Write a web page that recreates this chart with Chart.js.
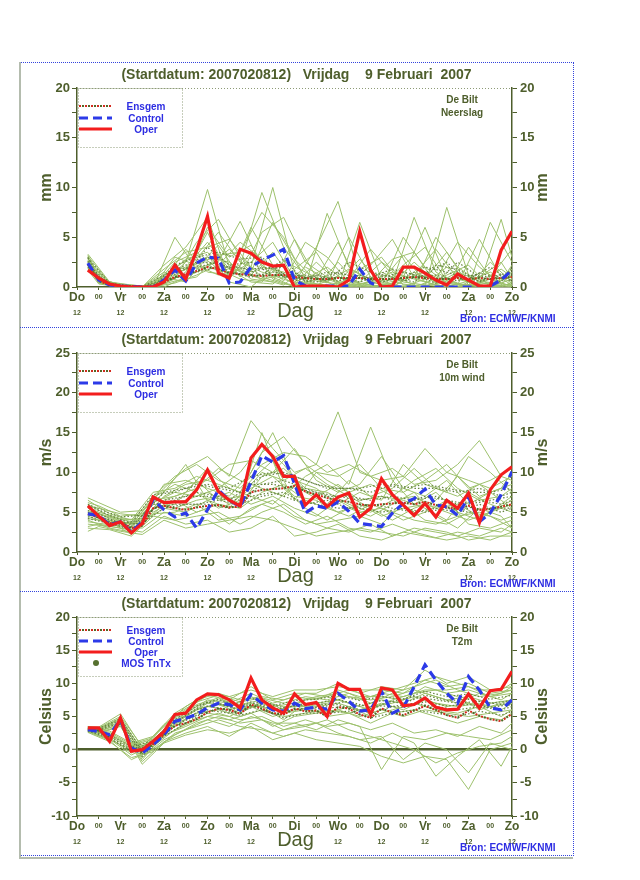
<!DOCTYPE html>
<html>
<head>
<meta charset="utf-8">
<script src="https://cdn.jsdelivr.net/npm/chart.js@4.4.1/dist/chart.umd.min.js"></script>
<style>
body { margin: 0; background: #fff; }
#page { position: relative; width: 640px; height: 880px; }
.frame { position: absolute; left: 20px; top: 62px; width: 554px; height: 794px; border: 1px dotted #3344dd; box-sizing: border-box; }
.grey { position: absolute; background: #b4bcae; }
.sep { position: absolute; left: 20px; width: 553px; border-top: 1px dotted #3344dd; }
canvas { position: absolute; left: 20px; }
</style>
</head>
<body>
<div id="page">
  <div class="frame"></div>
  <div class="grey" style="left:19px;top:62px;width:2px;height:797px"></div>
  <div class="grey" style="left:19px;top:857px;width:554px;height:2px"></div>
  <div class="sep" style="top:327px"></div>
  <div class="sep" style="top:591px"></div>
  <canvas id="c1" width="553" height="264" style="top:62px"></canvas>
  <canvas id="c2" width="553" height="264" style="top:327px"></canvas>
  <canvas id="c3" width="553" height="264" style="top:591px"></canvas>
</div>
<script>
// tijdas (uren na start 2007020812)
const hours6 = [6,12,18,24,30,36,42,48,54,60,66,72,78,84,90,96,102,108,114,120,126,132,138,144,150,156,162,168,174,180,186,192,198,204,210,216,222,228,234,240];
const hoursA = [6,18,30,42,54,66,78,90,102,114,126,138,150,162,174,186,198,210,222,234,240];
const hoursB = [6,12,24,36,48,60,72,84,96,108,120,132,144,156,168,180,192,204,216,228,240];
const dayLabels = ['Do','Vr','Za','Zo','Ma','Di','Wo','Do','Vr','Za','Zo'];

// ---- Neerslag (mm)
const precipOper = [1.7,0.9,0.3,0.1,0.0,0.0,0.0,0.5,2.2,0.8, 3.7,7.1,1.4,0.9,3.8,3.4,2.5,2.1,2.2,0.0, 0.1,0.1,0.1,0.0,0.7,5.6,1.7,0.0,0.1,2.0, 2.0,1.4,0.7,0.2,1.3,0.7,0.1,0.1,3.7,5.6];
const precipControl = [2.4,0.7,0.2,0.1,0.05,0.0,0.0,0.7,1.7,0.6, 2.4,3.0,2.9,0.4,0.5,2.0,2.7,3.2,3.8,0.7, 0.1,0.0,0.1,0.1,0.1,1.8,0.4,0.0,0.0,0.0, 0.0,0.0,0.0,0.0,0.0,0.0,0.0,0.1,0.7,1.7];
const precipEnsgem = [2.3,0.6,0.2,0.1,0.1,0.0,0.1,0.5,1.0,1.3, 1.6,2.0,1.8,1.4,1.3,1.2,1.1,1.2,1.2,1.0, 0.9,0.8,0.8,0.9,0.9,0.9,0.8,0.8,0.8,0.9, 1.0,0.9,0.8,0.8,0.9,0.8,0.9,0.8,0.9,1.0];
const precipMembersA = [
  [2.8,0.3,0.1,0.0,1.2,2.5,3.0,1.5,0.8,1.2,0.4,0.2,0.0,0.6,1.5,0.8,0.2,0.0,0.5,1.8,1.0],
  [2.2,0.2,0.0,0.1,2.0,3.2,1.5,2.2,9.5,4.0,1.0,0.5,1.8,0.8,0.2,0.0,0.3,1.5,0.6,0.3,0.2],
  [3.1,0.4,0.0,0.0,0.8,4.5,6.8,3.0,1.0,0.3,0.2,7.4,2.0,0.5,0.0,1.2,3.8,0.8,0.2,0.0,0.5],
  [1.9,0.2,0.1,0.0,5.0,1.8,2.6,6.6,2.0,1.5,0.6,0.0,0.3,2.2,4.8,0.9,0.2,0.0,1.0,2.5,0.8],
  [2.5,0.3,0.0,0.0,1.5,2.0,4.2,1.0,5.5,7.0,2.5,1.0,0.0,0.0,0.4,7.0,1.5,0.3,0.0,0.6,2.2],
  [2.0,0.1,0.0,0.0,0.4,1.2,2.2,4.5,2.8,0.6,4.5,3.0,0.5,0.2,0.0,0.0,0.8,4.5,2.0,0.4,0.1],
  [3.3,0.5,0.2,0.0,2.5,3.5,1.8,0.8,0.5,2.6,1.5,0.4,5.0,1.0,0.3,2.5,0.5,0.0,0.2,6.8,3.0],
  [2.6,0.3,0.0,0.1,1.0,2.8,5.5,2.5,1.5,0.8,0.0,0.0,0.8,3.8,1.2,0.2,5.0,2.0,0.5,0.0,0.0],
  [1.8,0.2,0.1,0.0,0.6,1.0,3.2,3.5,7.5,5.0,0.8,2.0,0.3,0.0,0.0,1.5,0.6,0.2,4.8,1.0,0.4],
  [2.4,0.4,0.0,0.0,3.0,2.2,1.2,1.8,0.8,0.2,2.0,0.8,0.0,0.5,2.8,3.5,0.3,1.0,0.0,0.2,1.5]
];
const precipMembersB = [
  [2.5,0.8,0.1,0.0,0.5,2.5,9.8,2.0,1.2,3.5,0.5,0.2,1.0,0.4,0.0,0.8,1.5,0.5,0.2,0.4,1.0],
  [3.0,0.6,0.2,0.0,1.8,3.5,4.0,4.8,2.0,10.0,1.5,0.3,0.0,0.5,2.5,1.0,6.0,0.8,0.0,2.5,0.5],
  [2.1,0.5,0.0,0.1,0.3,1.5,5.5,1.0,6.0,2.2,0.4,4.0,8.6,1.0,0.2,0.0,0.3,2.0,0.5,0.0,0.8],
  [1.7,0.3,0.0,0.0,1.0,0.5,3.0,2.5,0.8,0.5,4.8,1.0,0.0,6.5,0.8,0.3,0.0,8.0,1.2,0.3,0.0],
  [2.7,0.9,0.2,0.0,2.2,4.0,7.0,0.8,3.5,1.0,0.0,0.0,2.5,0.2,0.0,5.0,2.0,0.4,0.0,6.5,2.5],
  [2.3,0.4,0.1,0.0,0.0,1.0,2.0,3.8,1.5,6.5,2.8,0.6,0.3,0.0,1.5,0.5,0.2,0.0,4.0,1.0,3.8],
  [3.2,1.0,0.1,0.0,0.8,2.8,3.5,0.5,0.0,1.8,0.2,2.5,0.5,2.8,0.3,0.0,0.8,3.5,0.2,0.0,0.3],
  [1.9,0.5,0.0,0.0,1.5,0.8,6.0,3.0,4.2,0.8,0.0,0.8,4.5,0.0,0.0,2.2,4.0,0.6,0.0,0.8,0.0],
  [2.9,0.7,0.3,0.1,0.6,3.8,1.5,1.2,2.5,4.5,0.8,0.0,0.2,1.8,3.0,0.2,0.0,1.2,2.2,0.0,1.8],
  [2.0,0.4,0.0,0.0,1.2,2.0,4.5,1.8,0.5,0.3,1.8,3.5,0.0,0.3,0.6,3.2,0.5,0.0,0.6,1.5,0.2]
];
// kern van de pluim (donker gestippeld)
const precipCoreA = [
  [2.2,0.3,0.0,0.0,1.8,2.0,2.5,1.2,1.8,2.0,0.8,1.5,1.2,0.6,0.8,1.0,1.2,0.6,1.4,0.8,1.2],
  [2.9,0.4,0.1,0.0,2.2,3.0,3.5,2.8,3.0,1.0,1.2,0.6,2.5,1.5,1.0,0.5,2.2,1.8,0.5,1.2,0.6],
  [2.0,0.2,0.0,0.0,0.9,1.5,2.0,2.0,1.2,2.8,0.5,1.0,0.8,1.0,1.8,1.2,0.4,2.5,1.0,0.5,2.0]
];
const precipCoreB = [
  [2.6,0.5,0.1,0.0,0.8,1.8,3.0,1.5,1.0,1.5,1.2,0.8,1.5,0.8,1.0,1.5,1.0,0.8,1.2,1.0,1.5],
  [2.2,0.6,0.0,0.0,1.2,2.2,2.5,2.0,1.8,2.0,0.6,1.2,0.6,1.2,0.5,1.0,2.0,1.5,0.8,2.0,0.5],
  [3.0,0.8,0.1,0.0,0.6,1.2,4.0,2.2,2.5,1.2,0.9,0.5,1.0,0.5,1.2,0.6,1.2,2.5,0.5,0.8,1.0]
];

// ---- 10m wind (m/s)
const windOper = [5.8,4.5,3.3,3.8,2.4,3.6,6.9,6.2,6.3,6.3, 7.8,10.3,7.6,6.5,5.8,11.8,13.5,12.0,9.5,9.5, 5.9,7.2,5.7,6.9,7.4,4.4,5.5,9.2,7.2,5.9, 4.6,6.1,4.4,6.5,5.5,7.4,3.7,7.8,9.7,10.7];
const windControl = [4.8,4.6,3.4,3.8,2.5,3.8,6.6,5.3,4.4,4.9, 3.0,5.3,7.8,6.5,5.7,8.8,12.1,11.3,12.1,8.6, 4.9,5.8,5.5,6.3,5.1,3.6,3.4,3.2,4.9,6.1, 6.7,7.9,5.9,5.7,4.6,6.9,3.8,4.9,7.2,10.1];
const windEnsgem = [4.8,4.3,3.6,3.8,3.0,3.3,5.5,5.8,5.5,5.3, 5.6,5.8,5.9,5.6,5.7,7.5,7.8,7.9,8.0,8.3, 7.6,7.2,6.8,6.5,6.3,6.0,5.8,6.0,6.1,6.2, 6.0,6.3,5.9,5.6,5.4,5.8,5.3,5.4,5.7,6.0];
const windMembersA = [
  [4.5,3.5,3.0,6.0,5.5,6.5,7.0,6.0,9.5,10.5,8.0,7.5,6.0,5.0,6.5,7.0,5.5,6.0,4.5,5.5,6.0],
  [6.5,4.8,4.0,7.5,8.0,9.5,8.5,7.5,12.5,14.5,11.0,9.0,7.5,8.5,7.0,9.0,10.5,8.0,6.5,7.0,8.0],
  [3.0,2.8,2.0,4.5,4.0,4.5,5.0,3.5,5.0,6.0,4.0,3.0,2.5,3.5,2.0,3.0,2.5,2.0,3.0,2.5,3.5],
  [5.5,4.2,3.5,6.5,7.0,8.0,10.5,9.0,8.0,7.0,9.5,11.0,8.5,15.7,9.0,6.0,7.5,5.0,4.0,6.0,7.0],
  [4.0,3.0,2.5,5.0,6.5,5.0,6.0,5.5,7.5,8.5,6.5,5.5,4.5,6.0,5.0,4.0,3.5,4.5,5.0,4.0,4.5],
  [6.0,4.5,3.8,7.0,9.5,11.0,9.0,8.0,11.0,12.5,12.0,10.0,11.0,9.5,10.5,8.5,9.0,11.0,14.0,9.5,9.0],
  [3.5,3.2,2.8,4.8,5.0,6.0,4.0,4.5,6.0,5.0,3.5,4.5,3.0,2.5,3.5,2.5,1.8,2.5,2.0,3.0,2.5],
  [5.0,4.0,3.2,6.2,7.5,7.0,8.0,10.0,13.5,11.0,7.5,6.0,9.0,7.0,8.0,10.5,8.0,7.0,8.5,6.5,5.5],
  [4.8,3.8,2.2,5.5,6.0,9.0,6.5,7.0,10.0,9.0,10.5,8.5,7.0,5.5,4.0,5.5,6.5,9.5,7.0,8.0,10.0],
  [5.2,4.4,3.4,6.8,8.5,7.5,5.5,6.5,15.0,8.0,5.5,4.0,5.5,4.5,6.0,7.5,4.5,3.0,5.5,4.5,3.0]
];
const windMembersB = [
  [4.2,4.0,3.8,3.5,6.0,6.5,7.5,6.0,8.0,9.5,7.0,6.5,5.0,6.0,4.5,5.5,6.0,5.0,4.0,5.0,6.5],
  [6.8,6.2,5.0,5.2,8.0,10.5,12.0,9.5,16.5,13.0,10.0,11.0,17.6,10.0,9.0,9.5,13.0,10.0,9.0,8.0,9.5],
  [3.2,3.5,3.0,2.5,4.5,3.5,4.0,2.5,3.0,4.5,2.0,2.5,3.5,2.0,1.5,2.5,2.0,1.5,2.0,1.5,2.5],
  [5.6,5.0,4.2,4.0,7.0,8.5,9.0,11.0,11.5,10.0,13.0,9.0,7.5,8.5,12.0,8.0,7.0,9.0,6.0,7.5,8.5],
  [4.6,4.5,3.5,3.8,5.5,5.0,6.5,7.5,6.0,7.0,5.5,4.5,6.5,5.0,5.5,4.0,5.0,6.5,3.5,3.0,4.0],
  [5.8,5.5,4.8,4.5,8.5,9.0,8.0,7.0,10.0,15.0,9.0,8.0,6.0,7.5,6.5,11.0,8.5,7.5,12.0,10.0,7.5],
  [2.6,3.2,2.6,2.2,4.0,3.0,3.5,4.0,4.5,4.0,3.0,2.0,2.5,3.0,2.5,2.0,3.0,2.5,1.5,2.0,2.0],
  [5.0,4.8,4.0,4.2,6.5,7.5,10.5,8.0,7.0,6.0,8.5,7.0,8.5,6.5,7.0,6.5,5.5,4.0,7.5,6.0,5.0],
  [6.2,5.8,4.5,4.8,7.5,11.0,6.5,5.5,9.0,11.5,6.5,10.0,9.5,11.0,8.0,7.5,9.0,11.0,8.0,9.0,10.5],
  [3.8,3.6,3.3,3.0,5.0,4.5,5.5,3.5,5.5,6.5,4.5,3.5,4.0,4.5,3.5,6.0,4.0,3.5,5.0,4.5,3.0]
];
const windCoreA = [
  [5.0,4.0,3.2,6.0,6.5,7.5,7.0,6.5,8.5,9.0,8.0,7.0,7.0,6.5,7.0,6.5,7.0,6.0,6.5,6.0,6.5],
  [4.2,3.6,2.8,5.5,6.0,6.0,6.5,6.0,7.0,7.5,6.0,6.5,5.5,6.0,5.5,5.0,5.5,5.0,6.0,5.0,5.5],
  [5.8,4.6,3.6,7.2,7.5,8.5,8.0,7.5,9.5,10.0,9.0,8.0,8.0,7.5,8.5,8.0,8.0,7.5,8.0,7.0,7.5]
];
const windCoreB = [
  [5.2,4.8,3.6,4.0,6.5,7.0,7.0,6.5,8.5,8.5,8.0,7.5,7.0,6.5,7.0,6.0,7.0,6.5,6.0,6.5,7.0],
  [4.4,4.2,3.4,3.6,5.5,6.0,6.0,5.5,7.0,7.5,6.5,6.0,5.5,5.5,5.0,5.5,5.0,5.5,5.0,5.5,5.5],
  [6.0,5.4,4.4,4.6,7.5,8.0,8.5,8.0,9.5,10.0,9.5,8.5,8.0,8.0,8.5,8.0,8.5,8.0,7.5,7.5,8.0]
];

// ---- T2m (Celsius)
const t2mOper = [3.3,3.3,1.25,4.8,-0.25,0.0,1.25,2.75,5.3,5.5, 7.5,8.4,8.3,7.5,6.3,10.8,7.5,6.3,5.5,8.4, 6.8,7.1,5.0,10.0,9.1,9.1,5.3,9.3,9.0,6.6, 6.8,7.8,6.4,6.0,6.1,8.4,6.3,8.9,9.1,11.8];
const t2mControl = [3.0,2.75,2.25,4.5,0.25,-0.5,0.75,2.25,4.25,4.75, 5.3,6.3,7.0,6.8,6.0,8.3,7.0,6.0,5.8,7.0, 6.2,6.4,6.1,8.5,7.3,5.8,6.0,8.8,5.5,6.3, 9.5,12.8,10.5,8.5,7.0,11.0,9.0,6.3,6.0,7.5];
const t2mEnsgem = [3.0,2.9,1.8,4.2,0.3,-0.4,0.8,2.3,3.6,4.0, 4.6,5.6,6.2,6.0,5.4,6.8,6.2,5.5,5.3,6.2, 5.8,5.9,5.0,6.4,6.2,5.3,4.8,6.2,5.6,5.2, 5.9,6.6,6.0,5.2,4.8,5.9,5.1,4.6,4.3,5.4];
const t2mMembersA = [
  [3.0,2.0,0.2,1.0,4.0,6.0,7.0,6.0,7.0,5.5,6.0,5.5,6.5,5.0,6.0,7.0,6.0,5.5,6.5,5.0,6.0],
  [3.4,2.6,0.8,1.8,5.2,7.2,8.2,7.2,7.8,7.0,8.0,7.5,8.5,7.0,8.5,9.5,10.5,9.0,8.0,8.5,9.5],
  [2.6,1.2,-1.2,-0.3,2.5,3.5,4.5,3.5,3.0,2.0,3.0,2.5,2.0,1.0,2.5,1.0,-4.0,-1.0,1.5,-2.5,0.5],
  [3.2,1.8,-0.5,1.5,4.5,6.5,7.5,6.8,7.5,6.0,7.5,8.0,7.0,6.0,7.5,8.5,9.0,8.0,6.0,7.0,7.5],
  [2.8,1.5,0.0,0.5,3.0,4.5,5.5,4.5,5.0,3.5,4.5,3.5,4.0,3.0,4.0,2.5,3.0,2.0,3.5,2.5,4.0],
  [3.5,2.8,1.0,2.0,5.5,7.5,8.5,7.5,8.0,7.5,8.5,8.0,9.0,8.0,9.0,10.0,11.0,10.0,9.0,9.0,10.0],
  [2.9,1.6,-0.8,0.8,3.8,5.5,6.0,5.0,6.0,5.0,5.5,6.0,5.5,4.0,5.5,6.0,5.0,4.0,5.0,4.5,5.5],
  [3.1,2.2,0.5,1.2,4.8,6.8,7.8,6.5,6.5,4.5,7.0,5.0,5.5,6.5,7.0,8.0,7.0,6.5,7.0,6.0,7.0],
  [2.7,1.4,-1.5,0.0,2.2,4.0,5.0,4.0,4.5,3.0,3.5,4.5,3.0,2.0,1.0,0.0,-2.0,-0.5,0.5,1.0,2.0],
  [3.3,2.4,0.6,1.6,4.2,6.2,6.8,5.5,7.2,6.5,6.5,7.0,8.0,7.5,8.0,9.0,8.0,7.0,8.5,7.5,8.5]
];
const t2mMembersB = [
  [3.0,2.9,4.2,-0.5,2.0,4.0,5.5,5.0,6.5,5.0,6.0,6.5,7.0,6.0,7.0,6.0,7.5,6.5,7.0,6.5,7.0],
  [3.5,3.4,5.4,0.3,3.8,6.0,8.2,7.5,9.5,7.5,8.5,8.5,10.0,8.5,9.5,9.0,12.0,10.0,11.0,9.0,9.5],
  [2.6,2.6,3.6,-2.2,1.0,2.2,3.0,2.5,3.5,1.5,2.5,1.5,1.0,0.5,-1.0,-2.0,-1.0,-1.5,-6.0,0.0,1.0],
  [3.2,3.1,4.8,-0.2,2.8,5.0,7.0,6.5,8.0,6.5,7.0,8.0,8.5,7.5,8.5,8.0,9.0,9.0,9.5,8.0,8.5],
  [2.8,2.7,4.0,-1.2,1.5,3.0,4.5,3.5,5.0,4.0,4.0,3.0,4.5,3.5,-3.0,2.0,1.5,2.5,2.0,1.5,3.0],
  [3.4,3.3,5.0,0.5,3.5,6.5,8.5,8.0,9.0,8.0,9.0,9.0,9.5,9.0,9.0,8.5,10.5,9.5,10.0,8.5,9.0],
  [2.9,2.8,3.8,-1.5,2.2,3.5,5.0,4.5,5.5,3.5,5.0,5.5,6.0,5.0,6.0,5.0,6.0,5.5,5.0,5.5,6.0],
  [3.1,3.0,4.5,-0.8,2.5,4.5,6.5,6.0,7.0,6.0,6.5,7.0,7.5,6.5,7.5,7.0,8.5,7.5,8.0,7.0,7.5],
  [2.7,2.5,3.5,-1.8,1.2,2.5,3.5,2.0,4.0,2.5,3.5,4.0,2.5,1.5,2.0,-1.5,1.0,0.0,-3.5,1.0,0.0],
  [3.3,3.2,4.6,0.0,3.0,5.5,7.5,7.0,8.5,7.0,8.0,7.5,9.0,8.0,8.0,7.5,9.5,8.5,9.0,8.0,9.0]
];
const t2mCoreA = [
  [3.0,1.9,0.0,1.1,4.2,6.0,7.0,5.8,6.8,5.8,6.3,6.3,6.5,5.5,6.5,7.0,6.5,6.0,6.5,6.0,6.5],
  [3.2,2.2,0.4,1.4,4.6,6.6,7.6,6.4,7.3,6.3,7.0,6.8,7.3,6.3,7.3,8.0,7.5,7.0,7.3,6.8,7.3],
  [2.8,1.7,-0.3,0.9,3.6,5.2,6.2,5.2,6.0,4.8,5.5,5.5,5.8,4.8,5.5,6.0,5.5,5.0,5.8,5.2,5.8]
];
const t2mCoreB = [
  [3.1,3.0,4.4,-0.6,2.4,4.6,6.6,6.0,7.2,6.0,6.6,7.0,7.6,6.6,7.4,7.0,8.2,7.4,7.6,7.0,7.4],
  [3.0,2.9,4.1,-1.0,2.0,4.0,6.0,5.5,6.6,5.4,6.0,6.4,6.8,5.8,6.6,6.4,7.2,6.6,6.8,6.4,6.8],
  [3.3,3.2,4.7,-0.2,2.9,5.2,7.2,6.6,7.8,6.6,7.4,7.6,8.2,7.4,8.0,7.6,8.8,8.0,8.4,7.6,8.2]
];

const FONT = '"Liberation Sans", Arial, Helvetica, sans-serif';
const OLIVE = '#4e5e2c';
const BLUE = '#2d2de2';
const RED = '#f31d1d';
const CTRL = '#2c3ae8';
const GREEN = '#9dc16c';
const DARKGREEN = '#668540';
const TITLE = '(Startdatum: 2007020812)   Vrijdag    9 Februari  2007';

function pts(hours, vals) {
    return vals.map((v, i) => ({ x: hours[i], y: v }));
}

function line(data, color, width, dash, offset) {
    return {
        data: data,
        borderColor: color,
        borderWidth: width,
        borderDash: dash,
        borderDashOffset: offset || 0,
        pointRadius: 0,
        tension: 0,
        fill: false
    };
}

// legenda, teksten en rechter as-titel
const decor = {
    id: "decor",
    afterDraw(chart, args, o) {
        const ctx = chart.ctx;
        const a = chart.chartArea;
        ctx.save();

        ctx.strokeStyle = "#8d9b77";
        ctx.lineWidth = 1;
        ctx.setLineDash([1, 2]);
        ctx.beginPath();
        ctx.moveTo(a.left, a.top + 0.5);
        ctx.lineTo(a.right, a.top + 0.5);
        ctx.stroke();
        ctx.strokeRect(a.left + 1.5, a.top + 0.5, 104, 59);

        const rows = o.mos ? [14, 25, 36, 47] : [19, 31, 42];
        const x0 = a.left + 2, x1 = a.left + 35, tx = a.left + 69;
        const names = ["Ensgem", "Control", "Oper", "MOS TnTx"];

        rows.forEach((r, i) => {
            const y = a.top + r - 1;
            ctx.beginPath();
            if (i === 0) {
                ctx.lineWidth = 2;
                ctx.setLineDash([2, 4]);
                ctx.strokeStyle = "#4f6a27";
                ctx.lineDashOffset = 3;
                ctx.moveTo(x0, y); ctx.lineTo(x1, y); ctx.stroke();
                ctx.beginPath();
                ctx.strokeStyle = "#d42a1e";
                ctx.lineDashOffset = 0;
                ctx.moveTo(x0, y); ctx.lineTo(x1, y); ctx.stroke();
            } else if (i === 1) {
                ctx.lineWidth = 3;
                ctx.setLineDash([9, 5]);
                ctx.strokeStyle = CTRL;
                ctx.moveTo(x0, y); ctx.lineTo(x1, y); ctx.stroke();
            } else if (i === 2) {
                ctx.lineWidth = 3;
                ctx.setLineDash([]);
                ctx.strokeStyle = RED;
                ctx.moveTo(x0, y); ctx.lineTo(x1, y); ctx.stroke();
            } else {
                ctx.setLineDash([]);
                ctx.fillStyle = "#56702f";
                ctx.arc(a.left + 19, y, 3, 0, Math.PI * 2);
                ctx.fill();
            }
            ctx.fillStyle = BLUE;
            ctx.font = "bold 10px " + FONT;
            ctx.textAlign = "center";
            ctx.textBaseline = "middle";
            ctx.fillText(names[i], tx, a.top + r);
        });

        ctx.fillStyle = OLIVE;
        ctx.font = "bold 10px " + FONT;
        ctx.textAlign = "center";
        ctx.fillText("De Bilt", 442, a.top + 12);
        ctx.fillText(o.varName, 442, a.top + 25);

        ctx.font = "20px " + FONT;
        ctx.fillText("Dag", (a.left + a.right) / 2 + 1, a.bottom + 24);

        ctx.fillStyle = BLUE;
        ctx.font = "bold 10px " + FONT;
        ctx.textAlign = "left";
        ctx.fillText("Bron: ECMWF/KNMI", 440, a.bottom + 32);

        ctx.translate(523, (a.top + a.bottom) / 2);
        ctx.rotate(-Math.PI / 2);
        ctx.fillStyle = OLIVE;
        ctx.font = "bold 16px " + FONT;
        ctx.textAlign = "center";
        ctx.fillText(o.unit, 0, 0);
        ctx.restore();
    }
};

function yTick(v) {
    return v % 5 === 0 ? String(v) : "";
}

function buildChart(id, p) {
    const datasets = [];
    datasets.push(line(pts(hours6, p.oper), RED, 3.2, []));
    datasets.push(line(pts(hours6, p.control), CTRL, 3.2, [9, 5]));
    datasets.push(line(pts(hours6, p.ensgem), "#d42a1e", 2, [2, 4]));
    datasets.push(line(pts(hours6, p.ensgem), "#4f6a27", 2, [2, 4], 3));
    p.coreA.forEach(m => datasets.push(line(pts(hoursA, m), DARKGREEN, 1.2, [1.5, 2])));
    p.coreB.forEach(m => datasets.push(line(pts(hoursB, m), DARKGREEN, 1.2, [1.5, 2])));
    p.membersA.forEach(m => datasets.push(line(pts(hoursA, m), GREEN, 1, [])));
    p.membersB.forEach(m => datasets.push(line(pts(hoursB, m), GREEN, 1, [])));

    const yGrid = p.zeroLine ? {
        drawOnChartArea: true,
        color: c => c.tick && c.tick.value === 0 ? OLIVE : "rgba(0,0,0,0)",
        lineWidth: c => c.tick && c.tick.value === 0 ? 2.5 : 1,
        tickColor: OLIVE, tickWidth: 1, tickLength: 5
    } : { drawOnChartArea: false, color: OLIVE, tickColor: OLIVE, tickWidth: 1, tickLength: 5 };

    const tickFont = { size: 13, weight: "bold", family: FONT };

    new Chart(document.getElementById(id), {
        type: "line",
        data: { datasets: datasets },
        options: {
            responsive: false,
            animation: false,
            events: [],
            layout: { padding: 0 },
            plugins: {
                legend: { display: false },
                tooltip: { enabled: false },
                title: {
                    display: true,
                    text: TITLE,
                    color: OLIVE,
                    font: { size: 14, weight: "bold", family: FONT },
                    padding: { top: 5, bottom: 4.2 }
                },
                decor: { varName: p.varName, unit: p.unit, mos: p.mos }
            },
            scales: {
                x: {
                    type: "linear", position: "bottom", min: 0, max: 240, weight: 0,
                    ticks: {
                        stepSize: 12, autoSkip: false, maxRotation: 0, padding: 0, color: OLIVE,
                        callback: v => v % 24 === 0 ? dayLabels[v / 24] : "00",
                        font: c => (c.tick && c.tick.value % 24 === 0)
                            ? { size: 12, weight: "bold", family: FONT }
                            : { size: 7, weight: "bold", family: FONT, lineHeight: "14.4px" }
                    },
                    grid: { drawOnChartArea: false, color: OLIVE, tickLength: 3 },
                    border: { color: OLIVE, width: 1.5 },
                    afterFit: s => { s.height = 16; }
                },
                x2: {
                    type: "linear", position: "bottom", min: 0, max: 240, weight: 1,
                    ticks: {
                        stepSize: 24, autoSkip: false, maxRotation: 0, padding: 6, color: OLIVE,
                        // onder "Di" staat de astitel "Dag"
                        callback: v => v === 120 ? "" : "12",
                        font: { size: 7, weight: "bold", family: FONT }
                    },
                    grid: { display: false, drawTicks: false },
                    border: { display: false },
                    afterFit: s => { s.height = 23; }
                },
                y: {
                    position: "left", min: p.min, max: p.max,
                    ticks: { stepSize: 2.5, autoSkip: false, padding: 2, color: OLIVE, font: tickFont, callback: yTick },
                    grid: yGrid,
                    border: { color: OLIVE, width: 1.5 },
                    title: {
                        display: true, text: p.unit, color: OLIVE,
                        font: { size: 16, weight: "bold", family: FONT },
                        padding: { top: 17.4, bottom: 0 }
                    },
                    afterFit: s => { s.width = 57; }
                },
                y1: {
                    position: "right", min: p.min, max: p.max,
                    ticks: { stepSize: 2.5, autoSkip: false, padding: 3, color: OLIVE, font: tickFont, callback: yTick },
                    grid: { drawOnChartArea: false, color: OLIVE, tickColor: OLIVE, tickLength: 5 },
                    border: { color: OLIVE, width: 1.5 },
                    afterFit: s => { s.width = 61; }
                }
            }
        },
        plugins: [decor]
    });
}

buildChart("c1", {
    oper: precipOper, control: precipControl, ensgem: precipEnsgem,
    membersA: precipMembersA, membersB: precipMembersB, coreA: precipCoreA, coreB: precipCoreB,
    min: 0, max: 20, unit: "mm", varName: "Neerslag", mos: false, zeroLine: false
});
buildChart("c2", {
    oper: windOper, control: windControl, ensgem: windEnsgem,
    membersA: windMembersA, membersB: windMembersB, coreA: windCoreA, coreB: windCoreB,
    min: 0, max: 25, unit: "m/s", varName: "10m wind", mos: false, zeroLine: false
});
buildChart("c3", {
    oper: t2mOper, control: t2mControl, ensgem: t2mEnsgem,
    membersA: t2mMembersA, membersB: t2mMembersB, coreA: t2mCoreA, coreB: t2mCoreB,
    min: -10, max: 20, unit: "Celsius", varName: "T2m", mos: true, zeroLine: true
});
</script>
</body>
</html>
